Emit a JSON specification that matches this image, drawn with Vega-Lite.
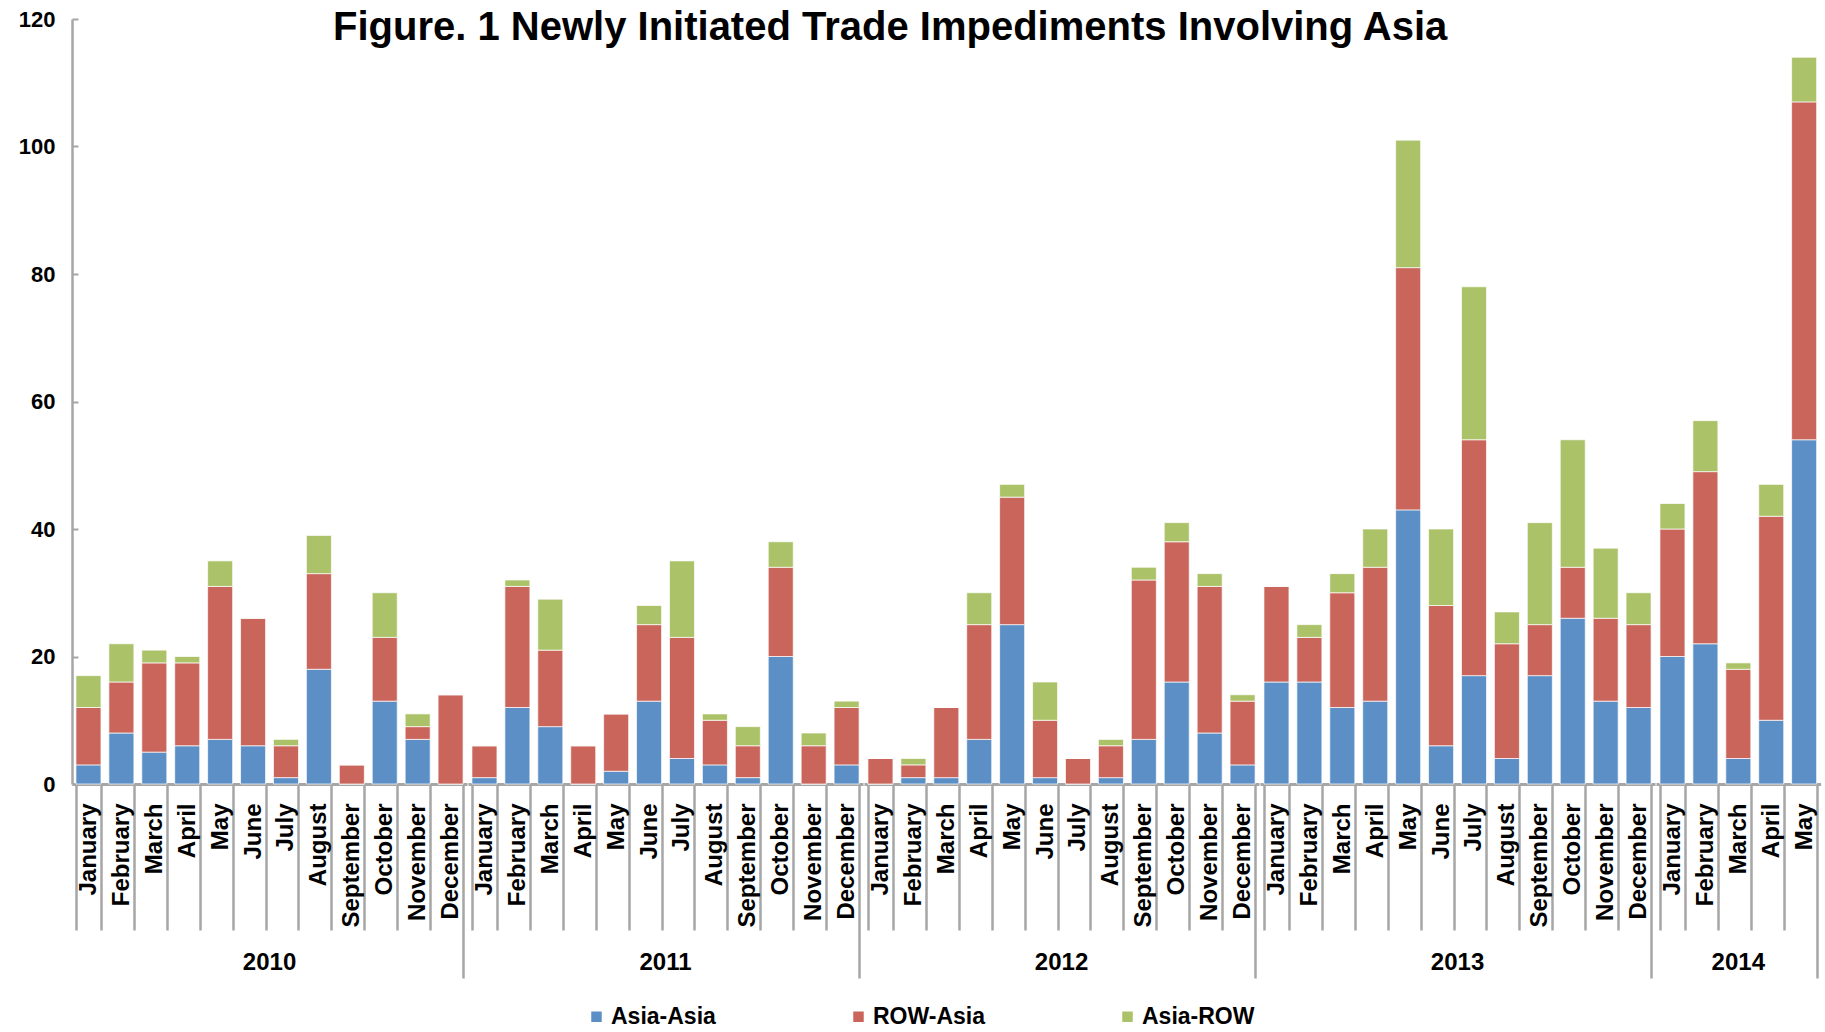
{
  "$schema": "https://vega.github.io/schema/vega-lite/v6.json",
  "background": "white",
  "padding": {"left": 18, "top": 8, "right": 5, "bottom": 5},
  "title": {"text": "Figure. 1 Newly Initiated Trade Impediments Involving Asia", "font": "Liberation Sans", "fontSize": 40, "fontWeight": "bold", "color": "#000000", "anchor": "start", "frame": "group", "dx": 261, "offset": -40},
  "data": {"values": [
    {"year": "2010", "month": "January", "Asia-Asia": 3, "ROW-Asia": 9, "Asia-ROW": 5},
    {"year": "2010", "month": "February", "Asia-Asia": 8, "ROW-Asia": 8, "Asia-ROW": 6},
    {"year": "2010", "month": "March", "Asia-Asia": 5, "ROW-Asia": 14, "Asia-ROW": 2},
    {"year": "2010", "month": "April", "Asia-Asia": 6, "ROW-Asia": 13, "Asia-ROW": 1},
    {"year": "2010", "month": "May", "Asia-Asia": 7, "ROW-Asia": 24, "Asia-ROW": 4},
    {"year": "2010", "month": "June", "Asia-Asia": 6, "ROW-Asia": 20, "Asia-ROW": 0},
    {"year": "2010", "month": "July", "Asia-Asia": 1, "ROW-Asia": 5, "Asia-ROW": 1},
    {"year": "2010", "month": "August", "Asia-Asia": 18, "ROW-Asia": 15, "Asia-ROW": 6},
    {"year": "2010", "month": "September", "Asia-Asia": 0, "ROW-Asia": 3, "Asia-ROW": 0},
    {"year": "2010", "month": "October", "Asia-Asia": 13, "ROW-Asia": 10, "Asia-ROW": 7},
    {"year": "2010", "month": "November", "Asia-Asia": 7, "ROW-Asia": 2, "Asia-ROW": 2},
    {"year": "2010", "month": "December", "Asia-Asia": 0, "ROW-Asia": 14, "Asia-ROW": 0},
    {"year": "2011", "month": "January", "Asia-Asia": 1, "ROW-Asia": 5, "Asia-ROW": 0},
    {"year": "2011", "month": "February", "Asia-Asia": 12, "ROW-Asia": 19, "Asia-ROW": 1},
    {"year": "2011", "month": "March", "Asia-Asia": 9, "ROW-Asia": 12, "Asia-ROW": 8},
    {"year": "2011", "month": "April", "Asia-Asia": 0, "ROW-Asia": 6, "Asia-ROW": 0},
    {"year": "2011", "month": "May", "Asia-Asia": 2, "ROW-Asia": 9, "Asia-ROW": 0},
    {"year": "2011", "month": "June", "Asia-Asia": 13, "ROW-Asia": 12, "Asia-ROW": 3},
    {"year": "2011", "month": "July", "Asia-Asia": 4, "ROW-Asia": 19, "Asia-ROW": 12},
    {"year": "2011", "month": "August", "Asia-Asia": 3, "ROW-Asia": 7, "Asia-ROW": 1},
    {"year": "2011", "month": "September", "Asia-Asia": 1, "ROW-Asia": 5, "Asia-ROW": 3},
    {"year": "2011", "month": "October", "Asia-Asia": 20, "ROW-Asia": 14, "Asia-ROW": 4},
    {"year": "2011", "month": "November", "Asia-Asia": 0, "ROW-Asia": 6, "Asia-ROW": 2},
    {"year": "2011", "month": "December", "Asia-Asia": 3, "ROW-Asia": 9, "Asia-ROW": 1},
    {"year": "2012", "month": "January", "Asia-Asia": 0, "ROW-Asia": 4, "Asia-ROW": 0},
    {"year": "2012", "month": "February", "Asia-Asia": 1, "ROW-Asia": 2, "Asia-ROW": 1},
    {"year": "2012", "month": "March", "Asia-Asia": 1, "ROW-Asia": 11, "Asia-ROW": 0},
    {"year": "2012", "month": "April", "Asia-Asia": 7, "ROW-Asia": 18, "Asia-ROW": 5},
    {"year": "2012", "month": "May", "Asia-Asia": 25, "ROW-Asia": 20, "Asia-ROW": 2},
    {"year": "2012", "month": "June", "Asia-Asia": 1, "ROW-Asia": 9, "Asia-ROW": 6},
    {"year": "2012", "month": "July", "Asia-Asia": 0, "ROW-Asia": 4, "Asia-ROW": 0},
    {"year": "2012", "month": "August", "Asia-Asia": 1, "ROW-Asia": 5, "Asia-ROW": 1},
    {"year": "2012", "month": "September", "Asia-Asia": 7, "ROW-Asia": 25, "Asia-ROW": 2},
    {"year": "2012", "month": "October", "Asia-Asia": 16, "ROW-Asia": 22, "Asia-ROW": 3},
    {"year": "2012", "month": "November", "Asia-Asia": 8, "ROW-Asia": 23, "Asia-ROW": 2},
    {"year": "2012", "month": "December", "Asia-Asia": 3, "ROW-Asia": 10, "Asia-ROW": 1},
    {"year": "2013", "month": "January", "Asia-Asia": 16, "ROW-Asia": 15, "Asia-ROW": 0},
    {"year": "2013", "month": "February", "Asia-Asia": 16, "ROW-Asia": 7, "Asia-ROW": 2},
    {"year": "2013", "month": "March", "Asia-Asia": 12, "ROW-Asia": 18, "Asia-ROW": 3},
    {"year": "2013", "month": "April", "Asia-Asia": 13, "ROW-Asia": 21, "Asia-ROW": 6},
    {"year": "2013", "month": "May", "Asia-Asia": 43, "ROW-Asia": 38, "Asia-ROW": 20},
    {"year": "2013", "month": "June", "Asia-Asia": 6, "ROW-Asia": 22, "Asia-ROW": 12},
    {"year": "2013", "month": "July", "Asia-Asia": 17, "ROW-Asia": 37, "Asia-ROW": 24},
    {"year": "2013", "month": "August", "Asia-Asia": 4, "ROW-Asia": 18, "Asia-ROW": 5},
    {"year": "2013", "month": "September", "Asia-Asia": 17, "ROW-Asia": 8, "Asia-ROW": 16},
    {"year": "2013", "month": "October", "Asia-Asia": 26, "ROW-Asia": 8, "Asia-ROW": 20},
    {"year": "2013", "month": "November", "Asia-Asia": 13, "ROW-Asia": 13, "Asia-ROW": 11},
    {"year": "2013", "month": "December", "Asia-Asia": 12, "ROW-Asia": 13, "Asia-ROW": 5},
    {"year": "2014", "month": "January", "Asia-Asia": 20, "ROW-Asia": 20, "Asia-ROW": 4},
    {"year": "2014", "month": "February", "Asia-Asia": 22, "ROW-Asia": 27, "Asia-ROW": 8},
    {"year": "2014", "month": "March", "Asia-Asia": 4, "ROW-Asia": 14, "Asia-ROW": 1},
    {"year": "2014", "month": "April", "Asia-Asia": 10, "ROW-Asia": 32, "Asia-ROW": 5},
    {"year": "2014", "month": "May", "Asia-Asia": 54, "ROW-Asia": 53, "Asia-ROW": 7}
  ]},
  "transform": [
    {"fold": ["Asia-Asia", "ROW-Asia", "Asia-ROW"], "as": ["series", "value"]},
    {"lookup": "series", "from": {"data": {"values": [
      {"series": "Asia-Asia", "stackRank": 1},
      {"series": "ROW-Asia", "stackRank": 2},
      {"series": "Asia-ROW", "stackRank": 3}
    ]}, "key": "series", "fields": ["stackRank"]}}
  ],
  "facet": {
    "column": {
      "field": "year", "type": "ordinal",
      "header": {"title": null, "labelOrient": "bottom", "labelFont": "Liberation Sans", "labelFontSize": 24, "labelFontWeight": "bold", "labelColor": "#000000", "labelPadding": 167}
    }
  },
  "spacing": 0,
  "bounds": "flush",
  "resolve": {"scale": {"x": "independent"}},
  "spec": {
    "width": {"step": 32.92},
    "height": 765,
    "mark": {"type": "bar", "stroke": "#ffffff", "strokeWidth": 1, "strokeOpacity": 0.7},
    "encoding": {
      "x": {
        "field": "month", "type": "ordinal",
        "sort": ["January", "February", "March", "April", "May", "June", "July", "August", "September", "October", "November", "December"],
        "scale": {"paddingInner": 0.24, "paddingOuter": 0.12},
        "axis": {
          "title": null, "labelAngle": -90, "labelFont": "Liberation Sans", "labelFontSize": 24, "labelFontWeight": "bold", "labelColor": "#000000",
          "tickBand": "extent",
          "tickSize": {"condition": {"test": "datum.index == 1 || (datum.value == 'May' && datum.index > 0.5)", "value": 194}, "value": 146},
          "tickColor": "#A6A6A6", "tickWidth": 2.5,
          "domainColor": "#A6A6A6", "domainWidth": 3,
          "labelPadding": {"condition": {"test": "datum.index == 1", "value": -175}, "value": -127}
        }
      },
      "y": {
        "field": "value", "type": "quantitative", "stack": "zero",
        "scale": {"domain": [0, 120]},
        "axis": {
          "title": null, "values": [0, 20, 40, 60, 80, 100, 120], "grid": false,
          "labelFont": "Liberation Sans", "labelFontSize": 22, "labelFontWeight": "bold", "labelColor": "#000000",
          "domainColor": "#A6A6A6", "domainWidth": 2.5, "tickColor": "#A6A6A6", "tickWidth": 2, "tickSize": -6, "labelPadding": 23
        }
      },
      "order": {"field": "stackRank", "type": "quantitative", "sort": "ascending"},
      "color": {
        "field": "series", "type": "nominal",
        "sort": ["Asia-Asia", "ROW-Asia", "Asia-ROW"],
        "scale": {"domain": ["Asia-Asia", "ROW-Asia", "Asia-ROW"], "range": ["#5B8FC6", "#CA655B", "#ABC269"]},
        "legend": {
          "orient": "none", "legendX": 513, "legendY": 986, "direction": "horizontal", "title": null,
          "symbolType": "square", "symbolSize": 110, "symbolStrokeWidth": 0,
          "labelFont": "Liberation Sans", "labelFontSize": 23, "labelFontWeight": "bold", "labelColor": "#000000",
          "columnPadding": 131, "labelOffset": 3
        }
      }
    }
  },
  "config": {"view": {"stroke": null}}
}
